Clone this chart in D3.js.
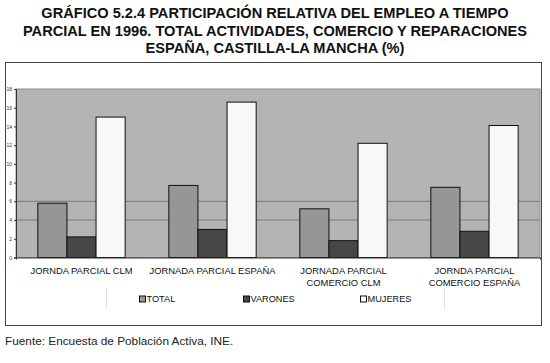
<!DOCTYPE html>
<html><head><meta charset="utf-8">
<script src="https://cdn.jsdelivr.net/npm/d3@7/dist/d3.min.js"></script>
<style>body{margin:0;background:#fff;} svg{display:block;font-family:"Liberation Sans",Arial,sans-serif;}</style>
</head><body>
<svg id="c" width="550" height="363"></svg>
<script>
const categories = ["JORNDA PARCIAL CLM", "JORNADA PARCIAL ESPAÑA", "JORNADA PARCIAL|COMERCIO CLM", "JORNDA PARCIAL|COMERCIO ESPAÑA"];
const seriesNames = ["TOTAL", "VARONES", "MUJERES"];
const total   = [5.8, 7.7, 5.2, 7.5];
const varones = [2.2, 3.0, 1.8, 2.8];
const mujeres = [15.0, 16.6, 12.2, 14.1];
const yTicks = [0, 2, 4, 6, 8, 10, 12, 14, 16, 18];
const gridValues = [4, 6];
const titleLines = ["GRÁFICO 5.2.4 PARTICIPACIÓN RELATIVA DEL EMPLEO A TIEMPO", "PARCIAL EN 1996. TOTAL ACTIVIDADES, COMERCIO Y REPARACIONES", "ESPAÑA, CASTILLA-LA MANCHA (%)"];
const source = "Fuente: Encuesta de Población Activa, INE.";

const colors = ["#969696", "#474747", "#f8f8f8"];
const seriesData = [total, varones, mujeres];

const svg = d3.select("#c");
// title
svg.append("g").selectAll("text").data(titleLines).join("text")
  .attr("x", 275).attr("y", (d,i)=>18+i*17.5).attr("text-anchor","middle")
  .attr("font-size", 14.6).attr("font-weight","bold").attr("fill","#111").text(d=>d);

// outer frame
svg.append("rect").attr("x",5.5).attr("y",62.5).attr("width",536).attr("height",263)
  .attr("fill","none").attr("stroke","#444").attr("stroke-width",1);

const plot = {l:16, r:540, t:89, b:257.5};
const x0 = d3.scaleBand().domain(d3.range(categories.length)).range([plot.l, plot.r]).paddingInner(0).paddingOuter(0);
const x1 = d3.scaleBand().domain(d3.range(3)).range([0, x0.bandwidth()]).paddingOuter(0.75).paddingInner(0);
const y = d3.scaleLinear().domain([0,18]).range([plot.b, plot.t]);

svg.append("rect").attr("x",plot.l).attr("y",plot.t).attr("width",plot.r-plot.l).attr("height",plot.b-plot.t)
  .attr("fill","#b4b4b4").attr("stroke","#8e8e8e").attr("stroke-width",1);

svg.append("g").selectAll("line").data(gridValues).join("line")
  .attr("x1",plot.l).attr("x2",plot.r).attr("y1",d=>y(d)).attr("y2",d=>y(d))
  .attr("stroke","#7a7a7a").attr("stroke-width",1);

// bars
const g = svg.append("g");
categories.forEach((c,i)=>{
  seriesData.forEach((s,j)=>{
    g.append("rect").attr("x", x0(i)+x1(j)).attr("y", y(s[i]))
      .attr("width", x1.bandwidth()).attr("height", y(0)-y(s[i]))
      .attr("fill", colors[j]).attr("stroke","#111").attr("stroke-width",1);
  });
});

// y axis
const yAxis = d3.axisLeft(y).tickValues(yTicks).tickSize(2).tickPadding(2);
const ya = svg.append("g").attr("transform",`translate(${plot.l},0)`).call(yAxis);
ya.select(".domain").attr("stroke","#333");
ya.selectAll("text").attr("font-size",5).attr("fill","#333").attr("font-family","Liberation Sans, Arial");
ya.selectAll("line").attr("stroke","#333");

// x axis line
const xa = d3.axisBottom(x0).tickSize(2).tickFormat("");
const xg = svg.append("g").attr("transform",`translate(0,${plot.b})`).call(xa);
xg.select(".domain").attr("stroke","#333");
xg.selectAll(".tick").remove();

// category labels
const cl = svg.append("g");
categories.forEach((c,i)=>{
  const lines = c.split("|");
  const t = cl.append("text").attr("text-anchor","middle").attr("font-size",9.4).attr("fill","#111");
  lines.forEach((ln,k)=>t.append("tspan").attr("x",x0(i)+x0.bandwidth()/2).attr("y",273.5+k*12).text(ln));
});

// legend
const lg = svg.append("g");
lg.append("line").attr("x1",106.5).attr("x2",106.5).attr("y1",288).attr("y2",309).attr("stroke","#e2e2e2");
lg.append("line").attr("x1",444.5).attr("x2",444.5).attr("y1",288).attr("y2",309).attr("stroke","#e2e2e2");
const lxs = [139, 243, 360];
seriesNames.forEach((n,j)=>{
  lg.append("rect").attr("x",lxs[j]+0.5).attr("y",296).attr("width",6).attr("height",6)
    .attr("fill",colors[j]).attr("stroke","#111");
  lg.append("text").attr("x",lxs[j]+7.5).attr("y",302).attr("font-size",9.2).attr("fill","#111").text(n);
});

svg.append("text").attr("x",5).attr("y",345).attr("font-size",11.8).attr("fill","#222").text(source);
</script>
</body></html>
